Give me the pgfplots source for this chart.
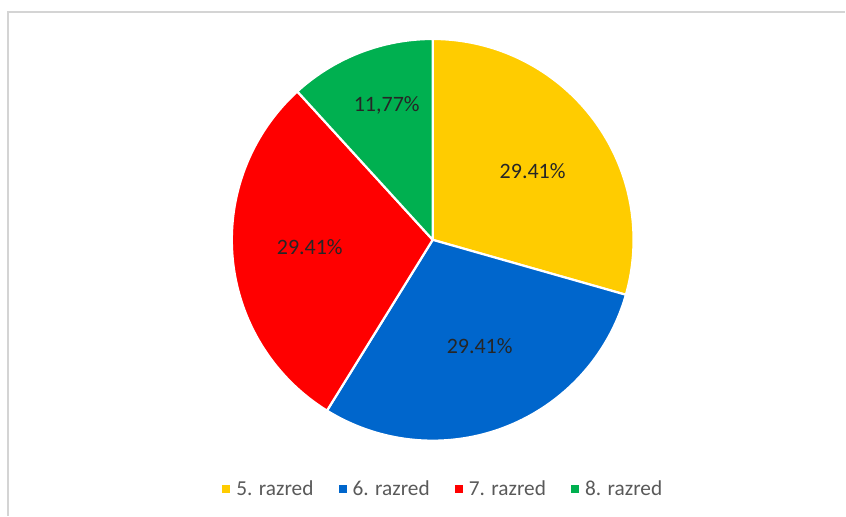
\documentclass[border=0pt]{standalone}
\usepackage{pgfplots}
\usepackage{pgfplotstable}
\pgfplotsset{compat=1.18}
\usepackage{fontspec}
\setmainfont{Carlito}
\definecolor{c0}{HTML}{FFCC00}
\definecolor{c1}{HTML}{0066CC}
\definecolor{c2}{HTML}{FF0000}
\definecolor{c3}{HTML}{00B050}
\definecolor{labtext}{HTML}{262626}
\definecolor{legtext}{HTML}{595959}
\definecolor{frame}{HTML}{D4D4D4}
\pgfplotstableread{
name val
5 29.41
6 29.41
7 29.41
8 11.77
}\piedata
\def\cx{433}
\def\cy{240}
\def\R{201}
\begin{document}
\begin{tikzpicture}
\begin{axis}[
  scale only axis, width=846bp, height=516bp,
  xmin=0, xmax=846, ymin=0, ymax=516, y dir=reverse,
  hide axis, clip=false,
  legend columns=-1,
  legend style={draw=none, fill=none, at={(axis cs:443,489)}, anchor=center,
    font=\fontsize{21.3bp}{24bp}\selectfont, text=legtext,
    /tikz/every even column/.append style={column sep=22bp},
    nodes={inner sep=2bp}},
  legend image code/.code={\fill[#1, draw=none] (0bp,-4bp) rectangle (8bp,4bp);\path (0bp,0bp) (11bp,0bp);},
]
\path (axis cs:0,0) (axis cs:846,516);
\draw[frame, line width=1.2bp] (axis cs:8,516) -- (axis cs:8,12) -- (axis cs:846,12);
\pgfmathsetmacro{\startang}{90}
\pgfplotsforeachungrouped \i in {0,1,2,3} {
  \pgfplotstablegetelem{\i}{val}\of\piedata
  \pgfmathsetmacro{\endang}{\startang - \pgfplotsretval*3.6}
  \edef\doplot{\noexpand\addplot[fill=c\i, draw=white, line width=2.2bp, line join=round, domain=\endang:\startang, samples=90, variable=\noexpand\t]
    ({\cx+\R*cos(\noexpand\t)},{\cy-\R*sin(\noexpand\t)}) -- (axis cs:\cx,\cy) -- cycle;}
  \doplot
  \pgfplotstablegetelem{\i}{name}\of\piedata
  \edef\doleg{\noexpand\addlegendentry{\pgfplotsretval. razred}}
  \doleg
  \global\let\startang\endang
}
\begin{scope}[every node/.style={font=\fontsize{22bp}{26bp}\selectfont, text=labtext}]
\node at (axis cs:533,171) {29.41\%};
\node at (axis cs:480,346) {29.41\%};
\node at (axis cs:310,247) {29.41\%};
\node at (axis cs:387,105) {11,77\%};
\end{scope}
\end{axis}
\end{tikzpicture}
\end{document}
